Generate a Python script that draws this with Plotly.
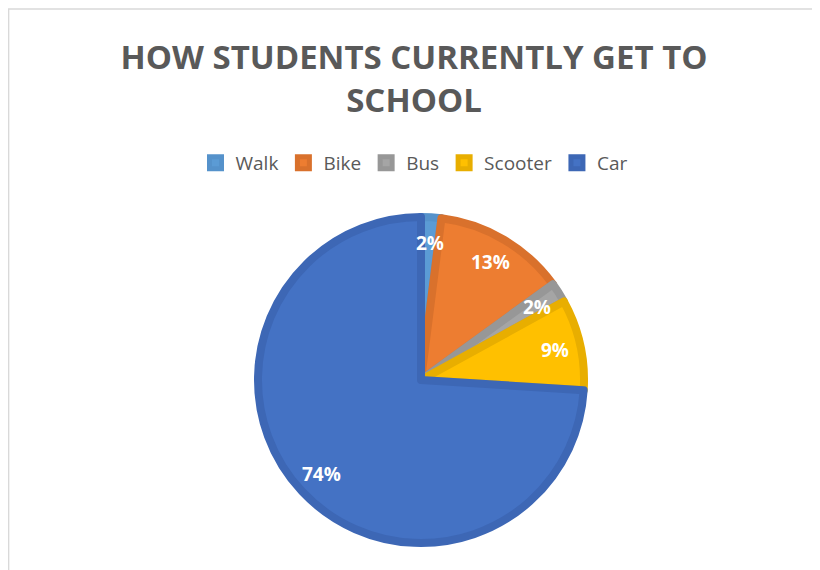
import math
import plotly.graph_objects as go

# ---- data ----
labels = ["Walk", "Bike", "Bus", "Scooter", "Car"]
values = [2, 13, 2, 9, 74]
fill_colors = ["#5B9BD5", "#ED7D31", "#A5A5A5", "#FFC000", "#4472C4"]
edge_colors = ["#5592CB", "#D9712C", "#979797", "#E8AE00", "#3D67B5"]

title_text = "HOW STUDENTS CURRENTLY GET TO<br>SCHOOL"

# ---- layout constants (pixels); page body has an 8px margin ----
OFF = 8
W, H = 820 - OFF, 570 - OFF
CX, CY = 421 - OFF, 380 - OFF      # pie centre in figure pixels
R = 163                            # plotly pie radius
LINE_W = 8
LABEL_R = 0.82 * (R + LINE_W / 2)

dom_x = [(CX - R) / W, (CX + R) / W]
dom_y = [1 - (CY + R) / H, 1 - (CY - R) / H]

fig = go.Figure()
fig.add_trace(go.Pie(
    labels=labels,
    values=values,
    sort=False,
    direction="clockwise",
    rotation=0,
    marker=dict(colors=fill_colors, line=dict(color=edge_colors, width=LINE_W)),
    textinfo="none",
    hoverinfo="label+percent",
    domain=dict(x=dom_x, y=dom_y),
    showlegend=True,
))

# data labels placed from the slice angles
total = sum(values)
annotations = []
cum = 0
for lab, v in zip(labels, values):
    mid = (cum + v / 2) / total * 2 * math.pi
    cum += v
    px = CX + LABEL_R * math.sin(mid)
    py = CY - LABEL_R * math.cos(mid)
    pct = round(v / total * 100)
    annotations.append(dict(
        x=px / W, y=1 - py / H, xref="paper", yref="paper",
        text=f"<b>{pct}%</b>", showarrow=False,
        font=dict(family="Open Sans", size=19, color="white"),
        xanchor="center", yanchor="middle",
    ))

fig.update_layout(
    width=W, height=H,
    margin=dict(l=0, r=0, t=0, b=0),
    paper_bgcolor="white",
    plot_bgcolor="white",
    title=dict(
        text=f"<b>{title_text}</b>",
        x=0.5, xanchor="center",
        y=1 - 61 / H, yanchor="top", yref="container",
        font=dict(family="Open Sans", size=33, color="#595959"),
    ),
    legend=dict(
        orientation="h",
        x=0.5, xanchor="center",
        y=1 - (163 - OFF) / H, yanchor="middle",
        font=dict(family="Open Sans", size=19, color="#595959"),
        itemclick=False,
    ),
    annotations=annotations,
    shapes=[dict(
        type="rect", xref="paper", yref="paper",
        x0=0.6 / W, x1=1.2, y0=-0.2, y1=1 - 1 / H,
        line=dict(color="#D9D9D9", width=1.5),
    )],
)

fig.write_html("out.html")
